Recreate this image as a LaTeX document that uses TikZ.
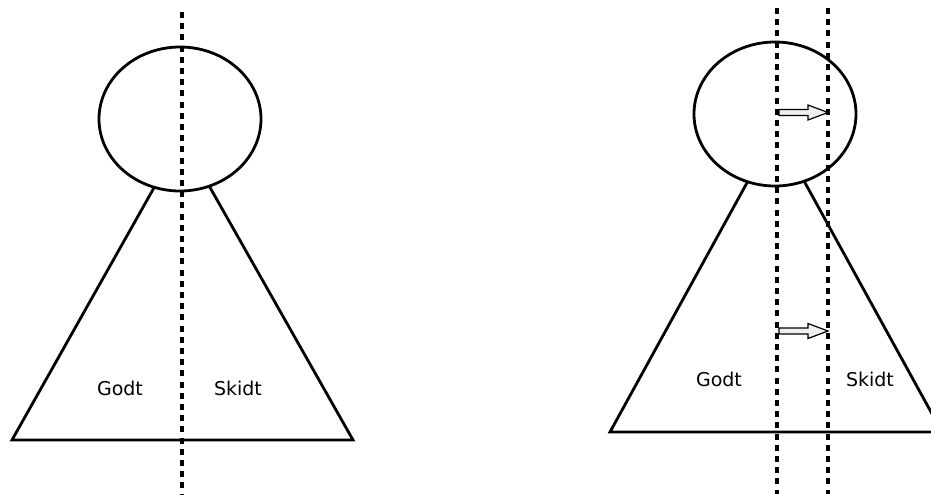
\documentclass[tikz,border=0pt]{standalone}
\usepackage{fontspec}
\setmainfont{DejaVu Sans}
\usetikzlibrary{shapes.geometric}
\begin{document}
\begin{tikzpicture}[x=0.5pt, y=-0.5pt,
    kant/.style={line width=1.4pt, line join=miter},
    snit/.style={line width=1.6pt, dash pattern=on 3pt off 2.6pt},
    hoved/.style={ellipse, draw, line width=1.4pt, fill=white,
        minimum width=81pt, minimum height=72pt, inner sep=0pt},
    pil/.style={draw, line width=0.6pt, fill=gray!12, line join=miter},
    tekst/.style={font=\fontsize{9.5pt}{11pt}\selectfont, inner sep=0pt}]
    \useasboundingbox (0,0) rectangle (931,494);
    \clip (0,0) rectangle (931,494);

    % venstre figur
    \coordinate (topA) at (182,138);
    \coordinate (venstreA) at (12,440);
    \coordinate (hoejreA) at (353,440);
    \draw[kant] (topA) -- (venstreA) -- (hoejreA) -- cycle;
    \node[hoved] (hovedA) at (180,119) {};
    \node[tekst] (godtA) at (120,388) {Godt};
    \node[tekst] (skidtA) at (238,388) {Skidt};
    \coordinate (snitAtop) at (182,12);
    \coordinate (snitAbund) at (182,494);
    \draw[snit] (snitAtop) -- (snitAbund);

    % højre figur
    \coordinate (topB) at (776,130);
    \coordinate (venstreB) at (610,432);
    \coordinate (hoejreB) at (942,432);
    \draw[kant] (topB) -- (venstreB) -- (hoejreB) -- cycle;
    \node[hoved] (hovedB) at (775,114) {};
    \node[tekst] (godtB) at (719,379) {Godt};
    \node[tekst] (skidtB) at (870,379) {Skidt};
    \coordinate (snitBtop) at (777,8);
    \coordinate (snitBbund) at (777,494);
    \coordinate (snitCtop) at (828,8);
    \coordinate (snitCbund) at (828,494);
    \draw[snit] (snitBtop) -- (snitBbund);
    \draw[snit] (snitCtop) -- (snitCbund);

    % pile mellem snittene
    \foreach \y in {112.5,331} {
        \coordinate (pil) at (779,\y);
        \draw[pil] (pil) -- ++(0,-3) -- ++(29,0) -- ++(0,-4.5) -- ++(20,7.5)
            -- ++(-20,7.5) -- ++(0,-4.5) -- ++(-29,0) -- cycle;
    }
\end{tikzpicture}
\end{document}
